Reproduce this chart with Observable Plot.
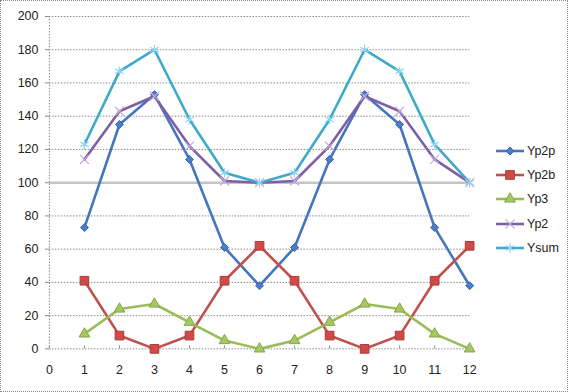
<!DOCTYPE html>
<html>
<head>
<meta charset="utf-8">
<script src="https://cdn.jsdelivr.net/npm/d3@7"></script>
<script src="https://cdn.jsdelivr.net/npm/@observablehq/plot@0.6"></script>
<style>
  html, body { margin: 0; padding: 0; background: #fff; }
  #wrap { position: relative; width: 568px; height: 392px; box-sizing: border-box; border: 1px dotted #888; font-family: "Liberation Sans", Arial, sans-serif; }
  #chart { position: absolute; left: -1px; top: -1px; }
  #legend { position: absolute; left: 494px; top: 138px; font-size: 12.5px; color: #222; }
  .item { display: flex; align-items: center; height: 24.2px; }
  .item svg { margin-right: 2px; }
</style>
</head>
<body>
<div id="wrap"><div id="chart"></div><div id="legend"></div></div>
<script>
const xs    = [1, 2, 3, 4, 5, 6, 7, 8, 9, 10, 11, 12];
const yp2p  = [73, 135, 153, 114, 61, 38, 61, 114, 153, 135, 73, 38];
const yp2b  = [41, 8, 0, 8, 41, 62, 41, 8, 0, 8, 41, 62];
const yp3   = [9, 24, 27, 16, 5, 0, 5, 16, 27, 24, 9, 0];
const yp2   = [114, 143, 152, 122, 101, 100, 101, 122, 152, 143, 114, 100];
const ysum  = [123, 167, 180, 138, 106, 100, 106, 138, 180, 167, 123, 100];
const seriesNames = ["Yp2p", "Yp2b", "Yp3", "Yp2", "Ysum"];
const xTicks = [0, 1, 2, 3, 4, 5, 6, 7, 8, 9, 10, 11, 12];
const yTicks = [0, 20, 40, 60, 80, 100, 120, 140, 160, 180, 200];

const values = [yp2p, yp2b, yp3, yp2, ysum];
const styles = {
  Yp2p: {line: "#4575bf", symbol: "diamond2", fill: "#4a7ecb", stroke: "#3a66b0", r: 3.6, sw: 1},
  Yp2b: {line: "#c0504d", symbol: "square", fill: "#d04a48", stroke: "#a83c3a", r: 4.9, sw: 1},
  Yp3:  {line: "#9bbb59", symbol: "triangle", fill: "#a6c862", stroke: "#86a548", r: 4.0, sw: 1},
  Yp2:  {line: "#7f5fa3", symbol: "times", fill: "none", stroke: "#c6a8dc", r: 4.2, sw: 1.2},
  Ysum: {line: "#3fa9c8", symbol: "asterisk", fill: "none", stroke: "#8fd6ee", r: 4.6, sw: 1.2}
};

const table = [];
seriesNames.forEach((s, i) => xs.forEach((x, j) => table.push({series: s, x, y: values[i][j]})));

const marks = [
  Plot.ruleY(yTicks.filter(d => d !== 0 && d !== 100), {stroke: "#8a8a8a", strokeDasharray: "1.5,1.5", strokeWidth: 1}),
  Plot.ruleY([100], {stroke: "#c4c4c4", strokeWidth: 2.5}),
  Plot.ruleX([0], {stroke: "#8a8a8a", strokeDasharray: "1.5,1.5"}),
  Plot.ruleY([0], {stroke: "#8a8a8a", strokeDasharray: "1.5,1.5"}),
  Plot.axisY({ticks: yTicks, tickSize: 4, tickPadding: 7, stroke: "#8a8a8a", fontSize: 12.5, fill: "#222", label: null}),
  Plot.axisX({ticks: xTicks, tickSize: -3, tickPadding: 19, stroke: "#8a8a8a", fontSize: 12.5, fill: "#222", label: null})
];
seriesNames.forEach(s => {
  const st = styles[s];
  const d = table.filter(r => r.series === s);
  marks.push(Plot.line(d, {x: "x", y: "y", stroke: st.line, strokeWidth: 2.6}));
});
seriesNames.forEach(s => {
  const st = styles[s];
  const d = table.filter(r => r.series === s);
  marks.push(Plot.dot(d, {x: "x", y: "y", symbol: () => st.symbol, r: st.r, fill: st.fill, stroke: st.stroke, strokeWidth: st.sw}));
});

const chart = Plot.plot({
  width: 568, height: 392,
  marginLeft: 49, marginRight: 98, marginTop: 16, marginBottom: 43,
  x: {domain: [0, 12]},
  y: {domain: [0, 200]},
  style: {fontFamily: "'Liberation Sans', Arial, sans-serif", fontSize: "12.5px", background: "transparent"},
  marks
});
document.getElementById("chart").appendChild(chart);

// legend
const legend = d3.select("#legend");
const symMap = {diamond2: d3.symbolDiamond2, square: d3.symbolSquare, triangle: d3.symbolTriangle, times: d3.symbolTimes, asterisk: d3.symbolAsterisk};
seriesNames.forEach(s => {
  const st = styles[s];
  const it = legend.append("div").attr("class", "item");
  const svg = it.append("svg").attr("width", 30).attr("height", 14);
  svg.append("line").attr("x1", 1).attr("x2", 29).attr("y1", 7).attr("y2", 7).attr("stroke", st.line).attr("stroke-width", 2.6);
  svg.append("path").attr("transform", "translate(15,7)")
    .attr("d", d3.symbol(symMap[st.symbol], st.r * st.r * Math.PI)())
    .attr("fill", st.fill).attr("stroke", st.stroke).attr("stroke-width", st.sw);
  it.append("span").text(s);
});
</script>
</body>
</html>
